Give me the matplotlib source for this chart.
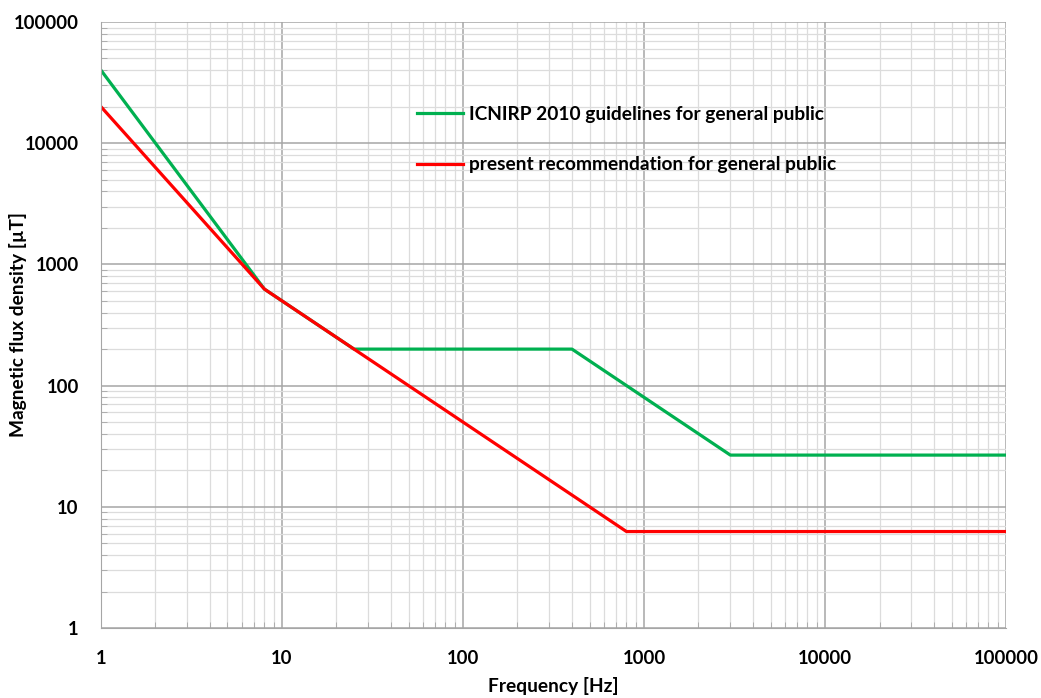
import numpy as np
import matplotlib.pyplot as plt
from matplotlib.ticker import LogLocator, FixedLocator, NullFormatter

# breakpoints of the two limit curves (log-log piecewise lines)
freq_icnirp = [1, 8, 25, 400, 3000, 100000]
b_icnirp = [40000, 625, 200, 200, 26.7, 26.7]
freq_present = [1, 8, 800, 100000]
b_present = [20000, 625, 6.25, 6.25]

label_icnirp = "ICNIRP 2010 guidelines for general public"
label_present = "present recommendation for general public"

xticks = [1, 10, 100, 1000, 10000, 100000]
yticks = [1, 10, 100, 1000, 10000, 100000]

plt.rcParams['font.family'] = ['Lato', 'DejaVu Sans']
plt.rcParams['font.weight'] = 'bold'

fig = plt.figure(figsize=(10.41, 6.98), dpi=100)
ax = fig.add_axes([0.097, 0.1003, 0.8694, 0.8682])

ax.plot(freq_icnirp, b_icnirp, color='#00B050', lw=2.3, label=label_icnirp)
ax.plot(freq_present, b_present, color='#FF0000', lw=2.3, label=label_present)

ax.set_xscale('log')
ax.set_yscale('log')
ax.set_xlim(1, 100000)
ax.set_ylim(1, 100000)

ax.xaxis.set_major_locator(FixedLocator(xticks))
ax.yaxis.set_major_locator(FixedLocator(yticks))
ax.set_xticklabels([str(v) for v in xticks])
ax.set_yticklabels([str(v) for v in yticks])
ax.xaxis.set_minor_locator(LogLocator(base=10, subs=np.arange(2, 10), numticks=20))
ax.yaxis.set_minor_locator(LogLocator(base=10, subs=np.arange(2, 10), numticks=20))
ax.xaxis.set_minor_formatter(NullFormatter())
ax.yaxis.set_minor_formatter(NullFormatter())

ax.grid(which='major', color='#a6a6a6', lw=1.1)
ax.grid(which='minor', color='#dcdcdc', lw=0.9)
ax.set_axisbelow(True)

ax.tick_params(which='major', length=0, labelsize=13.3, pad=16)
ax.tick_params(axis='y', which='major', pad=16)
ax.tick_params(which='minor', direction='in', length=4, color='#a6a6a6')
for s in ax.spines.values():
    s.set_visible(False)
ax.spines['left'].set_visible(True)
ax.spines['bottom'].set_visible(True)
ax.spines['left'].set_color('#a6a6a6')
ax.spines['bottom'].set_color('#a6a6a6')

ax.set_xlabel("Frequency [Hz]", fontsize=13.8, fontweight='bold', labelpad=7)
fig.text(18 / 1041, 0.535, "Magnetic flux density [µT]", rotation=90,
         fontsize=13.8, fontweight='bold', ha='center', va='center')

leg = ax.legend(loc='upper left', bbox_to_anchor=(0.33, 0.89), frameon=False,
                fontsize=13.8, handlelength=2.4, handletextpad=0.3,
                labelspacing=1.75)

fig.savefig("out.png", dpi=100)
